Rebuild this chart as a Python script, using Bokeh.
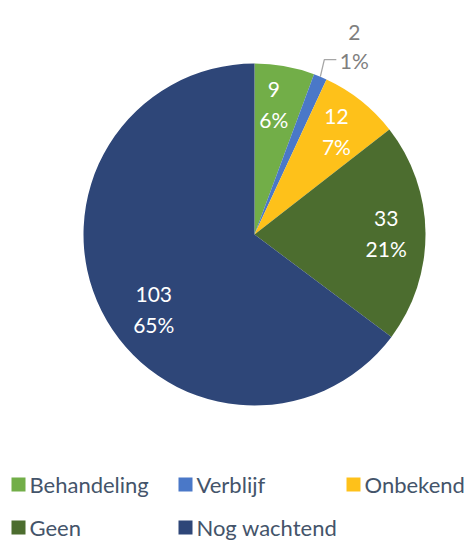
import math
from bokeh.plotting import figure
from bokeh.models import Range1d, ColumnDataSource
from bokeh.core.properties import value
from bokeh.embed import file_html
from bokeh.resources import INLINE

# ---- data ----
categories = ["Behandeling", "Verblijf", "Onbekend", "Geen", "Nog wachtend"]
counts = [9, 2, 12, 33, 103]
pct_labels = ["6%", "1%", "7%", "21%", "65%"]
colors = ["#72AE48", "#4A78C8", "#FEC11A", "#4C6D2F", "#2E4678"]

# ---- layout (screen-like coordinates: x right, y up from page bottom) ----
W, H = 467, 540
FONT = value("Lato")
cx, cy, R = 254, H - 234, 171

p = figure(width=W, height=H, output_backend="svg", toolbar_location=None,
           x_range=Range1d(0, W), y_range=Range1d(0, H),
           min_border=0, outline_line_color=None)
p.axis.visible = False
p.grid.visible = False

total = sum(counts)
start = math.pi / 2
starts, ends, mids = [], [], []
for c in counts:
    a = 2 * math.pi * c / total
    starts.append(start)
    ends.append(start - a)
    mids.append(start - a / 2)
    start -= a

src = ColumnDataSource(dict(start=starts, end=ends, color=colors, cat=categories))
p.wedge(x=cx, y=cy, radius=R, start_angle="end", end_angle="start",
        fill_color="color", line_color=None, source=src)

# labels
nudge = {0: (-4, 0), 4: (17, -16)}
for i, (c, pl, m) in enumerate(zip(counts, pct_labels, mids)):
    frac = c / total
    if frac < 0.03:
        ex, ey = cx + R * math.cos(m), cy + R * math.sin(m)
        p.line([ex, ex + 4, ex + 16], [ey, ey + 17, ey + 17], line_color="#A6A6A6", line_width=1.3)
        lx, ly = ex + 34, ey + 30
        p.text(x=[lx, lx], y=[ly + 14, ly - 14], text=[str(c), pl], text_align="center",
               text_baseline="middle", text_font=FONT, text_font_size="21px", text_color="#7F7F7F")
    else:
        rr = 0.77 * R
        lx, ly = cx + rr * math.cos(m), cy + rr * math.sin(m)
        dx, dy = nudge.get(i, (0, 0))
        lx += dx
        ly += dy
        p.text(x=[lx, lx], y=[ly + 15, ly - 15], text=[str(c), pl], text_align="center",
               text_baseline="middle", text_font=FONT, text_font_size="21px", text_color="white")

# legend (manual, 3 columns)
col_x = [18, 185, 353]
row_y = [H - 484, H - 527]
for i, (cat, col) in enumerate(zip(categories, colors)):
    r, k = divmod(i, 3)
    x0, y0 = col_x[k], row_y[r]
    p.scatter(x=[x0], y=[y0], marker="square", size=14, fill_color=col, line_color=None)
    p.text(x=[x0 + 11], y=[y0], text=[cat], text_align="left", text_baseline="middle",
           text_font=FONT, text_font_size="22px", text_color="#44546A")

open("out.html", "w").write(file_html(p, INLINE))
